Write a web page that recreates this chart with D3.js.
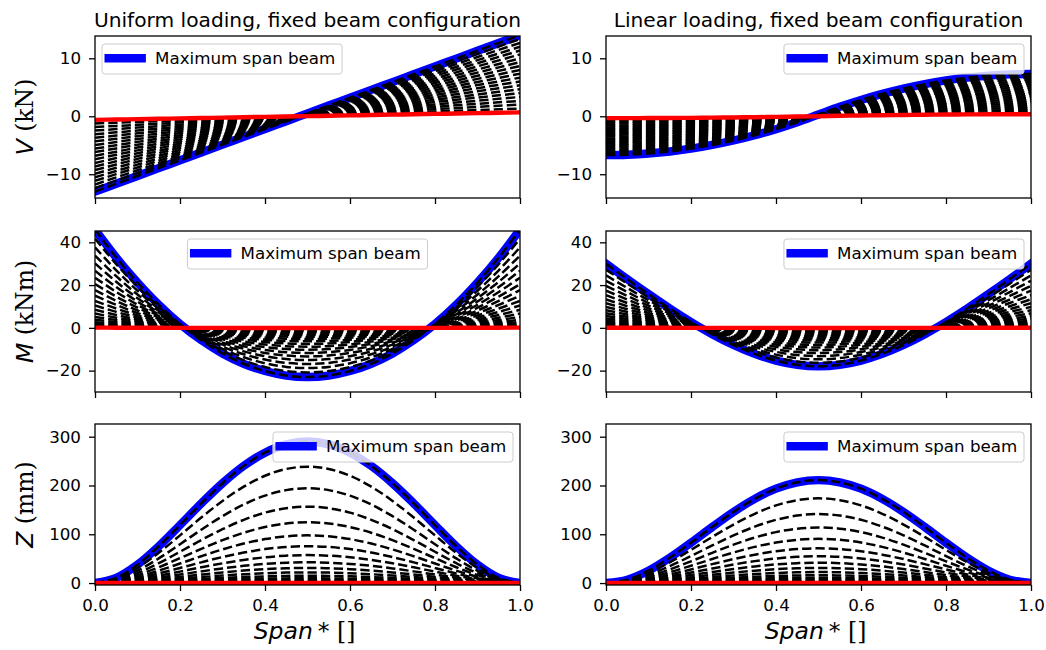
<!DOCTYPE html>
<html><head><meta charset="utf-8">
<script src="https://cdn.jsdelivr.net/npm/d3@7"></script>
<style>body{margin:0;background:#fff}</style>
</head><body><svg id="c" width="1046" height="650"></svg>
<script>
// ---------------- data ----------------
const spanX = [0,0.05,0.1,0.15,0.2,0.25,0.3,0.35,0.4,0.45,0.5,0.55,0.6,0.65,0.7,0.75,0.8,0.85,0.9,0.95,1.0];
// relative amplitude of every beam (shortest ... longest)
const shearRatio = [0.048,0.095,0.143,0.190,0.238,0.286,0.333,0.381,0.429,0.476,0.524,0.571,0.619,0.667,0.714,0.762,0.810,0.857,0.905,0.952,1.0];
const momentRatio = [0.0023,0.0091,0.0204,0.0363,0.0567,0.0816,0.1111,0.1451,0.1837,0.2268,0.2744,0.3265,0.3832,0.4444,0.5102,0.5805,0.6553,0.7347,0.8186,0.9070,1.0];
const deflRatio = [0.0000,0.0001,0.0004,0.0013,0.0032,0.0067,0.0123,0.0211,0.0337,0.0514,0.0753,0.1066,0.1468,0.1975,0.2603,0.3370,0.4294,0.5398,0.6701,0.8227,1.0];
// maximum span beam profiles
const uniformV = [-13.0,-11.65,-10.3,-8.95,-7.6,-6.25,-4.9,-3.55,-2.2,-0.85,0.5,1.85,3.2,4.55,5.9,7.25,8.6,9.95,11.3,12.65,14.0];
const uniformM = [46,32.9,21.2,10.8,1.8,-5.75,-12.0,-16.8,-20.2,-22.3,-23.0,-22.3,-20.2,-16.8,-12.0,-5.75,1.8,10.8,21.2,32.9,46];
const uniformZ = [0,10.5,37.6,75.4,118.8,163.1,204.6,240.1,267.3,284.2,290,284.2,267.3,240.1,204.6,163.1,118.8,75.4,37.6,10.5,0];
const linearV = [-6.7,-6.63,-6.42,-6.07,-5.58,-4.95,-4.18,-3.27,-2.22,-1.03,0.3,1.63,2.82,3.87,4.78,5.55,6.18,6.67,7.02,7.23,7.3];
const linearM = [30,22.8,15.8,9.05,2.74,-3.0,-8.02,-12.17,-15.31,-17.3,-18.0,-17.3,-15.31,-12.17,-8.02,-3.0,2.74,9.05,15.8,22.8,30];
const linearZ = [0,6.9,25.3,51.7,82.6,114.9,145.8,172.6,193.4,206.5,211,206.5,193.4,172.6,145.8,114.9,82.6,51.7,25.3,6.9,0];
const xTicks = [0,0.2,0.4,0.6,0.8,1.0];
const vTicks = [-10,0,10];
const mTicks = [-20,0,20,40];
const zTicks = [0,100,200,300];
const titles = ["Uniform loading, fixed beam configuration","Linear loading, fixed beam configuration"];
const legendLabel = "Maximum span beam";

// ---------------- layout ----------------
const cols = [{l:95,r:520},{l:606,r:1031}];
const rows = [{t:36,b:198},{t:231,b:392},{t:424,b:585}];
const yDomains = [[-14.1,13.85],[-30,45.3],[-4,326]];
const FONT = "'DejaVu Sans', sans-serif";
const SERIF = "'DejaVu Serif', serif";

const panels = [
  {row:0,col:0,profile:uniformV,ratios:shearRatio,ticks:vTicks,loc:"upper left"},
  {row:0,col:1,profile:linearV,ratios:shearRatio,ticks:vTicks,loc:"upper right"},
  {row:1,col:0,profile:uniformM,ratios:momentRatio,ticks:mTicks,loc:"upper center"},
  {row:1,col:1,profile:linearM,ratios:momentRatio,ticks:mTicks,loc:"upper right"},
  {row:2,col:0,profile:uniformZ,ratios:deflRatio,ticks:zTicks,loc:"upper right"},
  {row:2,col:1,profile:linearZ,ratios:deflRatio,ticks:zTicks,loc:"upper right"}
];

const svg = d3.select("#c");
const defs = svg.append("defs");

panels.forEach((p,k) => {
  const c = cols[p.col], r = rows[p.row];
  const x = d3.scaleLinear().domain([0,1]).range([c.l,c.r]);
  const y = d3.scaleLinear().domain(yDomains[p.row]).range([r.b,r.t]);
  defs.append("clipPath").attr("id","clip"+k).append("rect")
    .attr("x",c.l).attr("y",r.t).attr("width",c.r-c.l).attr("height",r.b-r.t);
  const g = svg.append("g").attr("clip-path",`url(#clip${k})`);
  const line = d3.line().x((d,i)=>x(spanX[i])).y(d=>y(d)).curve(d3.curveCatmullRom);

  g.append("path").attr("d",line(p.profile)).attr("fill","none")
    .attr("stroke","#0000ff").attr("stroke-width",8.4).attr("stroke-linecap","square");
  p.ratios.forEach(rt => {
    g.append("path").attr("d",line(p.profile.map(v=>v*rt))).attr("fill","none")
      .attr("stroke","#000").attr("stroke-width",2.5).attr("stroke-dasharray","9.3,4");
  });
  g.append("path").attr("d",line(p.profile.map(v=>v*p.ratios[0]))).attr("fill","none")
    .attr("stroke","#ff0000").attr("stroke-width",4.4).attr("stroke-linecap","square");

  // axes
  const ya = svg.append("g").attr("transform",`translate(${c.l},0)`)
    .call(d3.axisLeft(y).tickValues(p.ticks).tickSize(6).tickPadding(8).tickFormat(d3.format("d")));
  const xa = svg.append("g").attr("transform",`translate(0,${r.b})`)
    .call(d3.axisBottom(x).tickValues(xTicks).tickSize(6).tickPadding(8)
      .tickFormat(p.row===2 ? d3.format(".1f") : ""));
  [ya,xa].forEach(a => {
    a.select(".domain").remove();
    a.selectAll(".tick line").attr("stroke","#000").attr("stroke-width",1.3);
    a.selectAll(".tick text").attr("fill","#000").style("font-family",FONT).style("font-size","16.7px");
  });
  svg.append("rect").attr("x",c.l).attr("y",r.t).attr("width",c.r-c.l).attr("height",r.b-r.t)
    .attr("fill","none").attr("stroke","#000").attr("stroke-width",1.3);

  // legend
  const fs = 16.7, pad = 6.7, hl = 33, htp = 13.4;
  const lg = svg.append("g");
  const box = lg.append("rect");
  const txt = lg.append("text").text(legendLabel).style("font-family",FONT).style("font-size",fs+"px").attr("fill","#000");
  const tw = txt.node().getComputedTextLength();
  const lw = pad + hl + htp + tw + pad, lh = 30;
  let lx;
  if (p.loc === "upper left") lx = c.l + 7;
  else if (p.loc === "upper right") lx = c.r - 7 - lw;
  else lx = (c.l + c.r)/2 - lw/2;
  const ly = r.t + 8;
  box.attr("x",lx).attr("y",ly).attr("width",lw).attr("height",lh).attr("rx",3)
    .attr("fill","#fff").attr("fill-opacity",0.8).attr("stroke","#cccccc").attr("stroke-width",1);
  lg.append("line").attr("x1",lx+pad).attr("x2",lx+pad+hl).attr("y1",ly+14.3).attr("y2",ly+14.3)
    .attr("stroke","#0000ff").attr("stroke-width",8.4).attr("stroke-linecap","square");
  txt.attr("x",lx+pad+hl+htp).attr("y",ly+20);
});

// titles
titles.forEach((t,i) => {
  svg.append("text").attr("x",(cols[i].l+cols[i].r)/2).attr("y",26.5).attr("text-anchor","middle")
    .style("font-family",FONT).style("font-size","20.2px").attr("fill","#000").text(t);
});

// y labels
const yLabels = [["V"," (kN)"],["M"," (kNm)"],["Z"," (mm)"]];
yLabels.forEach((lab,i) => {
  const yc = (rows[i].t + rows[i].b)/2;
  const t = svg.append("text").attr("transform",`translate(33,${yc}) rotate(-90)`)
    .attr("text-anchor","middle").style("font-size","23.5px").attr("fill","#000");
  t.append("tspan").style("font-family",FONT).style("font-style","italic").text(lab[0]);
  t.append("tspan").style("font-family",SERIF).text(lab[1]);
});

// x labels
cols.forEach(c => {
  const t = svg.append("text").attr("x",(c.l+c.r)/2 - 3).attr("y",639).attr("text-anchor","middle")
    .style("font-size","23.5px").attr("fill","#000");
  t.append("tspan").style("font-family",FONT).style("font-style","italic").text("Span");
  t.append("tspan").attr("dx",5).style("font-family",FONT).text("*");
  t.append("tspan").style("font-family",SERIF).text(" []");
});
</script></body></html>
